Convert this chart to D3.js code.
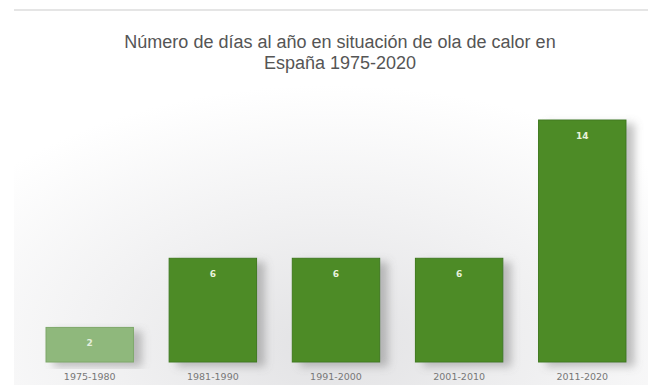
<!DOCTYPE html>
<html>
<head>
<meta charset="utf-8">
<script src="https://cdn.jsdelivr.net/npm/d3@7"></script>
<style>
  body { margin: 0; background: #fff; }
  svg { display: block; }
</style>
</head>
<body>
<div id="chart"></div>
<script>
// --------------------------------------
//  Data
// --------------------------------------

const periods = ["1975-1980", "1981-1990", "1991-2000", "2001-2010", "2011-2020"];
const days = [2, 6, 6, 6, 14];
const titleLines = ["Número de días al año en situación de ola de calor en", "España 1975-2020"];

// --------------------------------------
//  Margin and canvas
// --------------------------------------

const width = 648;
const height = 385;
const margin = {top: 120, right: 6, bottom: 23, left: 30};
const innerwidth = width - margin.left - margin.right;
const innerheight = height - margin.top - margin.bottom;

const svg = d3.select("#chart")
  .append("svg")
    .attr("width", width)
    .attr("height", height);

const defs = svg.append("defs");

const bg = defs.append("radialGradient")
    .attr("id", "bg")
    .attr("cx", "50%").attr("cy", "90%").attr("r", "70%");
bg.append("stop").attr("offset", "0%").attr("stop-color", "#e2e2e4");
bg.append("stop").attr("offset", "55%").attr("stop-color", "#f2f2f3");
bg.append("stop").attr("offset", "100%").attr("stop-color", "#ffffff");

const shadow = defs.append("filter")
    .attr("id", "shadow")
    .attr("x", "-20%").attr("y", "-10%").attr("width", "150%").attr("height", "130%");
shadow.append("feDropShadow")
    .attr("dx", 8).attr("dy", 4)
    .attr("stdDeviation", 4)
    .attr("flood-color", "#777")
    .attr("flood-opacity", 0.45);

svg.append("rect")
    .attr("x", 14).attr("y", 10)
    .attr("width", width - 14).attr("height", height - 10)
    .attr("fill", "url(#bg)");

svg.append("line")
    .attr("x1", 14).attr("x2", width)
    .attr("y1", 10).attr("y2", 10)
    .attr("stroke", "#dcdcdc")
    .attr("stroke-width", 1.5);

// --------------------------------------
//  Title
// --------------------------------------

svg.append("g")
  .selectAll("text")
  .data(titleLines)
  .join("text")
    .attr("x", 340)
    .attr("y", (d, i) => 48 + i * 21)
    .attr("text-anchor", "middle")
    .attr("font-family", "Liberation Sans, Arial, sans-serif")
    .attr("font-size", 18)
    .attr("fill", "#555")
    .text(d => d);

// --------------------------------------
//  Scales
// --------------------------------------

const x = d3.scaleBand()
    .domain(periods)
    .range([0, innerwidth])
    .paddingInner(0.29)
    .paddingOuter(0.13);

const y = d3.scaleLinear()
    .domain([0, 14])
    .range([innerheight, 0]);

const innerChart = svg.append("g")
    .attr("transform", `translate(${margin.left}, ${margin.top})`);

// --------------------------------------
//  Bars
// --------------------------------------

innerChart.append("g")
  .selectAll("rect")
  .data(periods)
  .join("rect")
    .attr("x", d => x(d))
    .attr("y", (d, i) => y(days[i]))
    .attr("width", x.bandwidth())
    .attr("height", (d, i) => innerheight - y(days[i]))
    .attr("fill", (d, i) => i === 0 ? "#8fb87c" : "#4e8b28")
    .attr("stroke", (d, i) => i === 0 ? "#7ea86a" : "#3f7a1e")
    .attr("stroke-width", 1)
    .attr("filter", "url(#shadow)");

innerChart.append("g")
  .selectAll("text")
  .data(periods)
  .join("text")
    .attr("x", d => x(d) + x.bandwidth() / 2)
    .attr("y", (d, i) => y(days[i]) + 19)
    .attr("text-anchor", "middle")
    .attr("font-family", "DejaVu Sans, sans-serif")
    .attr("font-size", 9)
    .attr("font-weight", "bold")
    .attr("fill", (d, i) => i === 0 ? "#e4eedc" : "#e8f2dc")
    .text((d, i) => days[i]);

// --------------------------------------
//  Axis
// --------------------------------------

innerChart.append("g")
    .attr("transform", `translate(0, ${innerheight})`)
    .call(d3.axisBottom(x).tickSize(0).tickPadding(11))
    .call(g => g.select(".domain").remove())
    .call(g => g.selectAll("text")
      .attr("font-family", "DejaVu Sans, sans-serif")
      .attr("font-size", 9.5)
      .attr("fill", "#777"));
</script>
</body>
</html>
